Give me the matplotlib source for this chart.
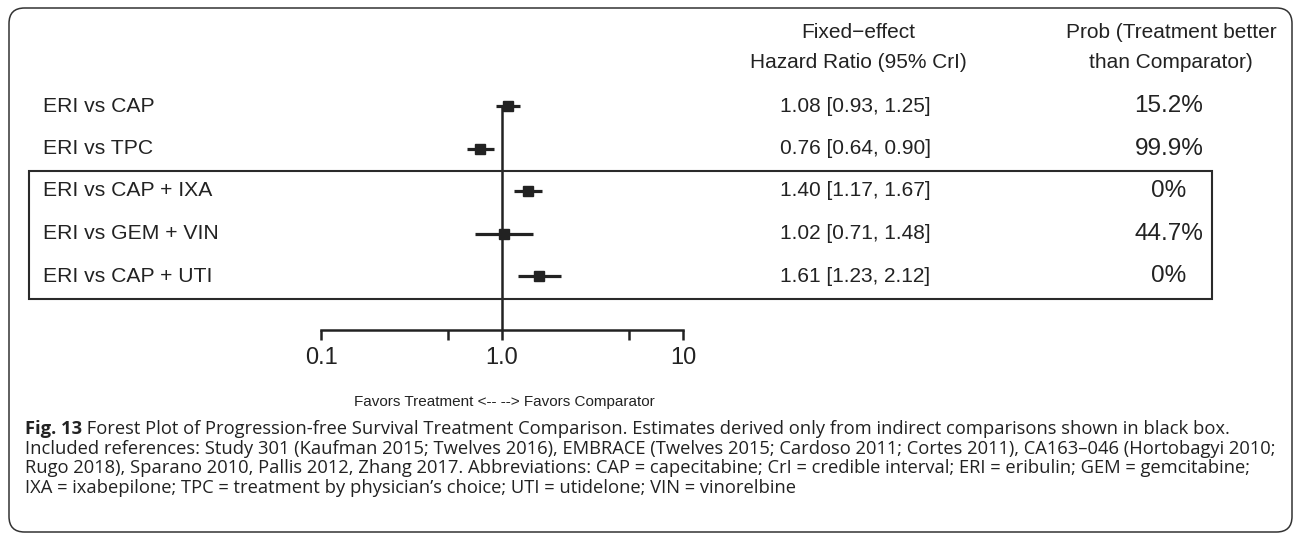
import matplotlib
matplotlib.use("Agg")
import matplotlib.pyplot as plt
import matplotlib.transforms as mtrans
from matplotlib.patches import FancyBboxPatch, Rectangle
from matplotlib.ticker import NullLocator, FixedLocator, FixedFormatter

# ---------------- data ----------------
labels = ["ERI vs CAP", "ERI vs TPC", "ERI vs CAP + IXA", "ERI vs GEM + VIN", "ERI vs CAP + UTI"]
hr = [1.08, 0.76, 1.40, 1.02, 1.61]
ci_lo = [0.93, 0.64, 1.17, 0.71, 1.23]
ci_hi = [1.25, 0.90, 1.67, 1.48, 2.12]
prob = ["15.2%", "99.9%", "0%", "44.7%", "0%"]
tick_vals = [0.1, 0.5, 1.0, 5.0, 10.0]
tick_labels = ["0.1", "", "1.0", "", "10"]
header_hr = ["Fixed\u2212effect", "Hazard Ratio (95% CrI)"]
header_prob = ["Prob (Treatment better", "than Comparator)"]
favors = "Favors Treatment <-- --> Favors Comparator"
caption_bold = "Fig. 13"
caption_lines = [
    "Forest Plot of Progression-free Survival Treatment Comparison. Estimates derived only from indirect comparisons shown in black box.",
    "Included references: Study 301 (Kaufman 2015; Twelves 2016), EMBRACE (Twelves 2015; Cardoso 2011; Cortes 2011), CA163\u2013046 (Hortobagyi 2010;",
    "Rugo 2018), Sparano 2010, Pallis 2012, Zhang 2017. Abbreviations: CAP = capecitabine; CrI = credible interval; ERI = eribulin; GEM = gemcitabine;",
    "IXA = ixabepilone; TPC = treatment by physician\u2019s choice; UTI = utidelone; VIN = vinorelbine",
]

# ---------------- layout ----------------
W, H = 1295, 534
DPI = 100
fig = plt.figure(figsize=(W / DPI, H / DPI), dpi=DPI)
fig.patch.set_facecolor("white")

def fx(px):
    return px / W

def fy(py):
    return 1 - py / H

INK = "#222222"
SANS = ["Liberation Sans", "DejaVu Sans"]
CAP_FONT = ["Open Sans", "DejaVu Sans"]

# outer rounded frame
frame = FancyBboxPatch((fx(9), fy(532)), fx(1292) - fx(9), fy(8) - fy(532),
                       boxstyle="round,pad=0,rounding_size=0.012",
                       transform=fig.transFigure, fill=False,
                       edgecolor="#333333", linewidth=1.1, mutation_aspect=W / H)
fig.patches.append(frame)

# forest axes
ax_l, ax_r, ax_t, ax_b = 321, 683, 85, 330
row_sp = 42.5
row0 = 106
ax = fig.add_axes([fx(ax_l), fy(ax_b), fx(ax_r) - fx(ax_l), fy(ax_t) - fy(ax_b)])
ax.set_xscale("log")
ax.set_xlim(0.1, 10)
y_bot = (ax_b - row0) / row_sp
y_top = (ax_t - row0) / row_sp
ax.set_ylim(y_bot, y_top)
ax.patch.set_alpha(0)

rows = list(range(len(labels)))
ax.axvline(1.0, ymin=0, ymax=y_bot / (y_bot - y_top), color=INK, linewidth=1.8, zorder=1)
ax.hlines(rows, ci_lo, ci_hi, color=INK, linewidth=2.3, zorder=2)
ax.plot(hr, rows, linestyle="none", marker="s", markersize=7, color=INK, zorder=3)

for s in ["top", "left", "right"]:
    ax.spines[s].set_visible(False)
ax.spines["bottom"].set_linewidth(1.8)
ax.spines["bottom"].set_color(INK)
ax.yaxis.set_visible(False)
ax.xaxis.set_major_locator(FixedLocator(tick_vals))
ax.xaxis.set_major_formatter(FixedFormatter(tick_labels))
ax.xaxis.set_minor_locator(NullLocator())
ax.tick_params(axis="x", direction="out", length=7, width=1.8, color=INK,
               labelsize=17, labelcolor=INK, pad=5)
for t in ax.get_xticklabels():
    t.set_fontfamily(SANS)

# row labels and text columns (figure x, data y)
blend = mtrans.blended_transform_factory(fig.transFigure, ax.transData)
for i, lab in enumerate(labels):
    fig.text(fx(43), i, lab, transform=blend, ha="left", va="center",
             fontsize=15.2, color=INK, family=SANS)
    fig.text(fx(855), i, f"{hr[i]:.2f} [{ci_lo[i]:.2f}, {ci_hi[i]:.2f}]", transform=blend,
             ha="center", va="center", fontsize=15, color=INK, family=SANS)
    fig.text(fx(1169), i, prob[i], transform=blend, ha="center", va="center",
             fontsize=17.5, color=INK, family=SANS)

# headers
fig.text(fx(858), fy(33), header_hr[0], ha="center", va="center", fontsize=15, color=INK, family=SANS)
fig.text(fx(858), fy(62), header_hr[1], ha="center", va="center", fontsize=15, color=INK, family=SANS)
fig.text(fx(1171), fy(33), header_prob[0], ha="center", va="center", fontsize=15, color=INK, family=SANS)
fig.text(fx(1171), fy(62), header_prob[1], ha="center", va="center", fontsize=15, color=INK, family=SANS)

# favors text
fig.text(fx(504), fy(402), favors, ha="center", va="center", fontsize=11, color=INK, family=SANS)

# black box around indirect comparisons
box = Rectangle((fx(29), fy(299)), fx(1212) - fx(29), fy(171) - fy(299),
                transform=fig.transFigure, fill=False, edgecolor="#2a2a2a", linewidth=1.5)
fig.patches.append(box)

# caption
cap_y = [429, 449, 468, 488]
cap_size = 13.2
tb = fig.text(fx(25), fy(cap_y[0]), caption_bold, ha="left", va="center",
              fontsize=cap_size, fontweight="bold", color=INK, family=CAP_FONT)
ax.annotate(" " + caption_lines[0], xy=(1, 0.5), xycoords=tb, ha="left", va="center",
            fontsize=cap_size, color=INK, family=CAP_FONT, annotation_clip=False)
for yy, line in zip(cap_y[1:], caption_lines[1:]):
    fig.text(fx(25), fy(yy), line, ha="left", va="center", fontsize=cap_size,
             color=INK, family=CAP_FONT)

fig.savefig("out.png", dpi=DPI, facecolor="white")
